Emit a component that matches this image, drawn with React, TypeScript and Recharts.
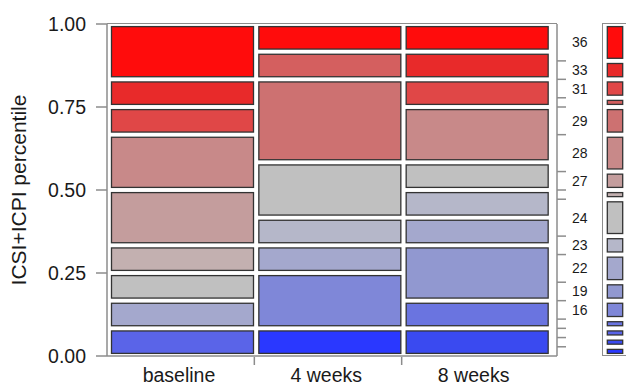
import React from 'react';
import { BarChart, Bar, XAxis, YAxis, Label } from 'recharts';

// scores, top of the mosaic to bottom (last four are never labelled)
const LEVELS = ['36', '33', '31', '30', '29', '28', '27', '26', '24', '23', '22', '19', '16', '15', '13', '11', '9'];
const LEVEL_COLORS = [
  '#ff0c0c', '#e82a2a', '#e04747', '#d45f5f', '#cd7171', '#c88989', '#c49d9d', '#c3b0b0',
  '#c0c0c0', '#b5b7c9', '#a4a8cd', '#9198d0', '#7f87d8', '#6a74e0', '#5a64e8', '#3a4af0', '#2a38ff'
];
const TIMES = ['baseline', '4 weeks', '8 weeks'];

// subjects per score at each time point
const BASELINE = [2, 1, 1, 0, 0, 2, 2, 1, 1, 0, 1, 0, 0, 0, 1, 0, 0];
const WEEK4 = [1, 0, 0, 1, 3, 0, 0, 0, 2, 1, 1, 0, 2, 0, 0, 0, 1];
const WEEK8 = [1, 1, 1, 0, 0, 2, 0, 0, 1, 1, 1, 2, 0, 1, 0, 1, 0];

const Y_TICKS = [0, 0.25, 0.5, 0.75, 1];

const AXIS = '#8c8c8c';
const INK = '#1a1a1a';
const FONT = '"Liberation Sans", Arial, Helvetica, sans-serif';

const columns = [BASELINE, WEEK4, WEEK8];
const rows = TIMES.map((time, i) => {
  const row: Record<string, string | number> = { time };
  LEVELS.forEach((lvl, j) => { row['s' + lvl] = columns[i][j]; });
  return row;
});

const marginal = LEVELS.map((_, j) => BASELINE[j] + WEEK4[j] + WEEK8[j]);
const total = marginal.reduce((a, b) => a + b, 0);
const legendRow: Record<string, string | number> = { time: 'all' };
LEVELS.forEach((lvl, j) => { legendRow['s' + lvl] = marginal[j]; });

// right axis: boundaries of the marginal distribution, labels at band middles
const bottomUp = LEVELS.map((l, j) => ({ l, n: marginal[j] })).reverse();
const boundTicks: number[] = [];
const labelTicks: number[] = [];
const labelNames: string[] = [];
let cum = 0;
bottomUp.forEach((b, k) => {
  if (b.n >= 2) {
    labelTicks.push((cum + b.n / 2) / total);
    labelNames.push(b.l);
  }
  cum += b.n;
  if (k < bottomUp.length - 1) boundTicks.push(cum / total);
});

const noLabel = () => <g />;

// category label plus a small tick on the band's left edge (between columns)
const TimeTick = (props: any) => {
  const { x, y, payload, index } = props;
  const half = payload.offset || 0;
  return (
    <g>
      {index > 0 && (
        <line
          x1={x - half - 2}
          x2={x - half - 2}
          y1={y - 11}
          y2={y - 3}
          stroke={AXIS}
          strokeWidth={1.5}
        />
      )}
      <text
        x={x - 3.7}
        y={y}
        dy="0.71em"
        textAnchor="middle"
        fontSize={19.5}
        fill={INK}
        fontFamily={FONT}
      >
        {payload.value}
      </text>
    </g>
  );
};

const makeTile = (insetX: number) => (props: any) => {
  const { x, y, width, height, fill } = props;
  if (!height || height <= 0.5) return null;
  return (
    <rect
      x={x + insetX}
      y={y + 2.6}
      width={Math.max(width - 2 * insetX, 0)}
      height={Math.max(height - 5.2, 0)}
      fill={fill}
      stroke="#333333"
      strokeWidth={1.3}
    />
  );
};

const mainTile = makeTile(2.5);
const legendTile = makeTile(5.3);

const stackOrder = LEVELS.map((l, j) => ({ l, c: LEVEL_COLORS[j] })).reverse();

const App: React.FC = () => {
  return (
    <div
      style={{
        position: 'absolute',
        left: 0,
        top: 0,
        width: 626,
        height: 385,
        overflow: 'hidden',
        background: '#ffffff',
        fontFamily: FONT
      }}
    >
      <BarChart
        width={626}
        height={385}
        data={rows}
        stackOffset="expand"
        barCategoryGap={0}
        margin={{ top: 24, right: 38, bottom: 0, left: 0 }}
      >
        <XAxis
          dataKey="time"
          height={29}
          interval={0}
          padding={{ left: 2, right: 6 }}
          axisLine={{ stroke: AXIS, strokeWidth: 1.5 }}
          tickLine={false}
          tickSize={8}
          tickMargin={4}
          tick={<TimeTick />}
        />
        <YAxis
          type="number"
          domain={[0, 1]}
          ticks={Y_TICKS}
          interval={0}
          width={107}
          axisLine={{ stroke: AXIS, strokeWidth: 1.5 }}
          tickLine={{ stroke: AXIS, strokeWidth: 1.5 }}
          tickSize={11}
          tickMargin={10}
          tickFormatter={(v: number) => v.toFixed(2)}
          tick={{ fontSize: 19.5, fill: INK, fontFamily: FONT }}
        >
          <Label
            value="ICSI+ICPI percentile"
            angle={-90}
            position="center"
            dx={-35}
            style={{ fontSize: 21, fill: INK, fontFamily: FONT }}
          />
        </YAxis>
        <YAxis
          yAxisId="bounds"
          orientation="right"
          type="number"
          domain={[0, 1]}
          ticks={boundTicks}
          interval={0}
          width={1}
          axisLine={{ stroke: AXIS, strokeWidth: 1.5 }}
          tickLine={{ stroke: AXIS, strokeWidth: 1.5 }}
          tickSize={9}
          tick={noLabel}
        />
        <YAxis
          yAxisId="labels"
          orientation="right"
          type="number"
          domain={[0, 1]}
          ticks={labelTicks}
          interval={0}
          width={30}
          axisLine={false}
          tickLine={false}
          tickSize={8}
          tickMargin={6}
          tickFormatter={(_v: number, i: number) => labelNames[i]}
          tick={{ fontSize: 14, fill: INK, fontFamily: FONT }}
        />
        {stackOrder.map((s) => (
          <Bar
            key={s.l}
            dataKey={'s' + s.l}
            stackId="score"
            fill={s.c}
            shape={mainTile}
            isAnimationActive={false}
          />
        ))}
      </BarChart>

      {/* plot frame top edge */}
      <div
        style={{
          position: 'absolute',
          left: 107,
          top: 23.25,
          width: 450,
          height: 0,
          borderTop: `1.5px solid ${AXIS}`
        }}
      />

      {/* marginal distribution strip */}
      <div
        style={{
          position: 'absolute',
          left: 601.5,
          top: 22.5,
          width: 40,
          height: 333,
          border: `1.5px solid ${AXIS}`,
          boxSizing: 'border-box'
        }}
      />
      <div style={{ position: 'absolute', left: 602, top: 0 }}>
        <BarChart
          width={26}
          height={385}
          data={[legendRow]}
          stackOffset="expand"
          barCategoryGap={0}
          margin={{ top: 24, right: 0, bottom: 29, left: 0 }}
        >
          <XAxis dataKey="time" hide />
          <YAxis type="number" domain={[0, 1]} hide />
          {stackOrder.map((s) => (
            <Bar
              key={s.l}
              dataKey={'s' + s.l}
              stackId="score"
              fill={s.c}
              shape={legendTile}
              isAnimationActive={false}
            />
          ))}
        </BarChart>
      </div>
    </div>
  );
};

export default App;
